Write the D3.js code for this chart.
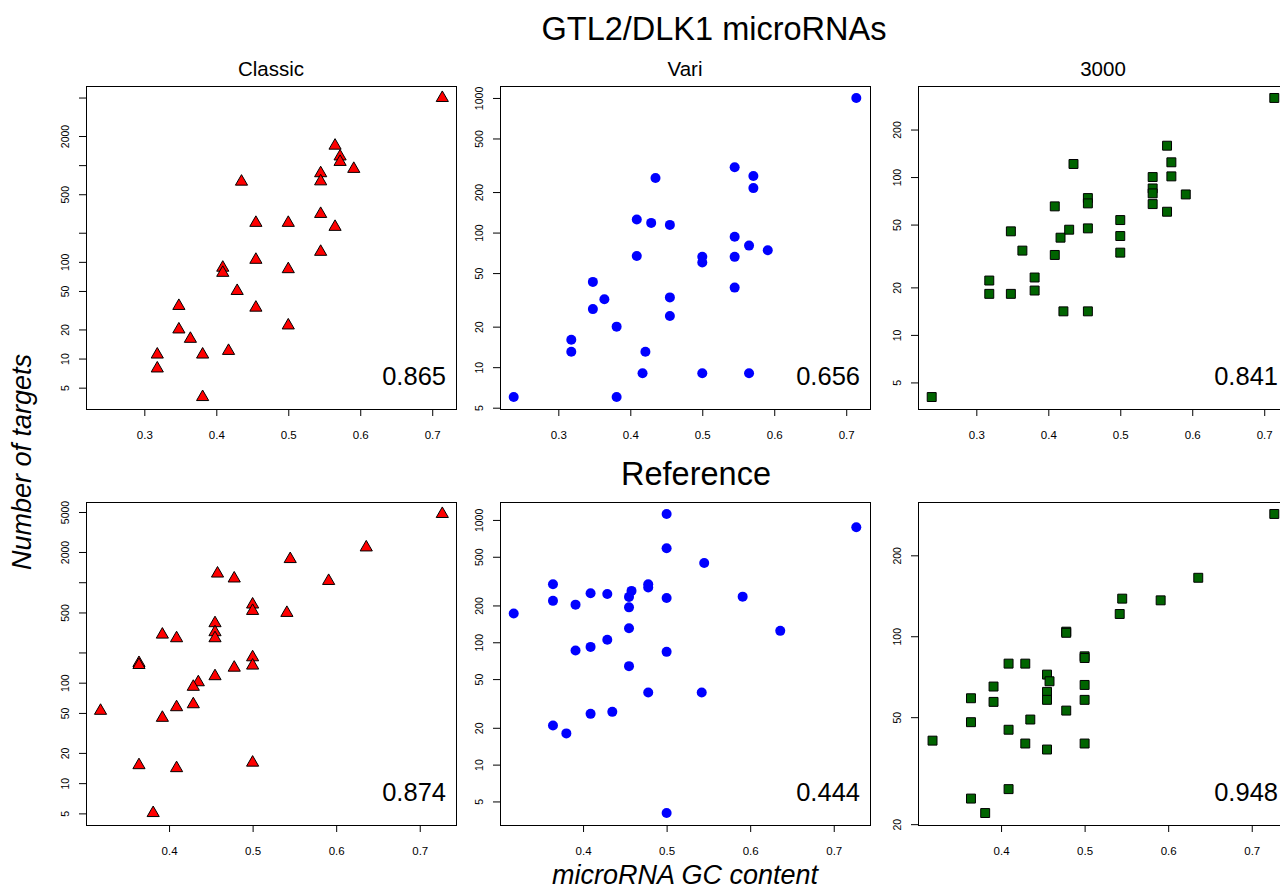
<!DOCTYPE html>
<html>
<head>
<meta charset="utf-8">
<script src="https://cdn.jsdelivr.net/npm/d3@7"></script>
<style>
  body { margin: 0; background: #fff; }
  svg { display: block; font-family: "Liberation Sans", Arial, sans-serif; }
</style>
</head>
<body>
<svg width="1280" height="890"></svg>
<script>
// GTL2/DLK1 row
const classicX = [0.714, 0.565, 0.572, 0.572, 0.591, 0.545, 0.545, 0.435, 0.545, 0.455, 0.5, 0.565, 0.545, 0.455,
                  0.409, 0.409, 0.5, 0.429, 0.348, 0.455, 0.5, 0.348, 0.364, 0.417, 0.318, 0.381, 0.318, 0.381];
const classicY = [4950, 1590, 1230, 1080, 915, 825, 680, 675, 313, 253, 253, 230, 127, 105,
                  87, 77, 84, 50, 35, 33.6, 22, 20, 16, 12, 11, 11, 7.9, 4];

const variX = [0.238, 0.318, 0.318, 0.348, 0.348, 0.364, 0.381, 0.381, 0.409, 0.409, 0.417, 0.421, 0.429, 0.435, 0.455,
               0.455, 0.455, 0.5, 0.5, 0.5, 0.545, 0.545, 0.545, 0.545, 0.565, 0.565, 0.571, 0.571, 0.591, 0.714];
const variY = [6, 16, 13, 43, 27, 32, 20, 6, 125, 67, 9, 13, 118, 254, 114,
               33, 24, 66, 60, 9, 306, 93, 66, 39, 80, 9, 263, 214, 74, 1000];

const k3000X = [0.238, 0.318, 0.318, 0.348, 0.348, 0.364, 0.381, 0.381, 0.409, 0.409, 0.417, 0.421, 0.429, 0.435, 0.455, 0.455,
                0.455, 0.455, 0.5, 0.5, 0.5, 0.545, 0.545, 0.545, 0.545, 0.565, 0.565, 0.571, 0.571, 0.591, 0.714];
const k3000Y = [4.04, 22.1, 18.2, 45.3, 18.2, 34.2, 23.1, 19.1, 65.2, 32.1, 41.3, 14.1, 46.4, 121, 73.6, 68.1,
                47.3, 14.1, 53.4, 42.3, 33.2, 100, 84.7, 78.8, 67.4, 158, 60.3, 124, 101, 77.6, 317];

// Reference row
const refClassicX = [0.727, 0.636, 0.545, 0.458, 0.478, 0.591, 0.5, 0.5, 0.541, 0.455, 0.455, 0.455, 0.392, 0.409, 0.364,
                     0.364, 0.5, 0.5, 0.478, 0.455, 0.435, 0.429, 0.429, 0.409, 0.318, 0.392, 0.5, 0.364, 0.409, 0.381];
const refClassicY = [4780, 2220, 1700, 1220, 1090, 1030, 600, 518, 495, 391, 318, 277, 301, 277, 157,
                     150, 179, 148, 141, 116, 101, 91, 61, 57, 52.5, 44.7, 16, 15.1, 14.1, 5.04];

const refVariX = [0.317, 0.364, 0.364, 0.364, 0.380, 0.391, 0.391, 0.409, 0.409, 0.409, 0.429, 0.429, 0.435, 0.455, 0.458, 0.455,
                  0.455, 0.455, 0.478, 0.478, 0.478, 0.5, 0.5, 0.5, 0.5, 0.5, 0.545, 0.542, 0.591, 0.636, 0.727];
const refVariY = [172, 298, 218, 20.9, 18, 203, 85.6, 252, 91.7, 26, 248, 105, 27, 235, 263, 193,
                  130, 63.8, 298, 280, 38.8, 1119, 587, 230, 83.5, 4.02, 445, 38.8, 236, 124, 871];

const ref3000X = [0.318, 0.364, 0.364, 0.364, 0.381, 0.391, 0.391, 0.409, 0.409, 0.409, 0.429, 0.429, 0.435, 0.455, 0.458, 0.455,
                  0.455, 0.455, 0.478, 0.478, 0.478, 0.5, 0.5, 0.5, 0.5, 0.5, 0.542, 0.545, 0.591, 0.636, 0.727];
const ref3000Y = [40.9, 58.8, 47.9, 24.9, 22, 65, 57, 79.1, 44.9, 27, 79.1, 39.9, 49, 72, 68, 62.1,
                  58, 37.9, 104, 103, 52.9, 84.2, 83, 65.9, 58, 39.9, 121, 138, 136, 165, 285];

const correlations = ["0.865", "0.656", "0.841", "0.874", "0.444", "0.948"];
const panelTitles = ["Classic", "Vari", "3000"];
const xTicksTop = [0.3, 0.4, 0.5, 0.6, 0.7];
const xTicksBottom = [0.4, 0.5, 0.6, 0.7];
const yTickValues = [5, 10, 20, 50, 100, 200, 500, 1000, 2000, 5000];
// labels R kept after dropping overlaps
const yLabelsShown = [
  [5, 10, 20, 50, 100, 500, 2000],
  [5, 10, 20, 50, 100, 200, 500, 1000],
  [5, 10, 20, 50, 100, 200],
  [5, 10, 20, 50, 100, 500, 2000, 5000],
  [5, 10, 20, 50, 100, 200, 500, 1000],
  [20, 50, 100, 200]
];

let svg = d3.select("svg");

let lefts = [86, 500, 918], tops = [86, 502];
let pw = 370, ph = 323;

let panels = [
  {xs: classicX, ys: classicY, shape: "tri"},
  {xs: variX, ys: variY, shape: "dot"},
  {xs: k3000X, ys: k3000Y, shape: "sq"},
  {xs: refClassicX, ys: refClassicY, shape: "tri"},
  {xs: refVariX, ys: refVariY, shape: "dot"},
  {xs: ref3000X, ys: ref3000Y, shape: "sq"}
];

// R style limits: data range widened by 4% (log space for y)
function padExtent(ext) {
  let d = (ext[1] - ext[0]) * 0.04;
  return [ext[0] - d, ext[1] + d];
}

// the x range is shared along a row
let rowX = [
  padExtent(d3.extent(classicX.concat(variX, k3000X))),
  padExtent(d3.extent(refClassicX.concat(refVariX, ref3000X)))
];

panels.forEach(function(p, i) {
  let row = Math.floor(i / 3), col = i % 3;
  let g = svg.append("g")
      .attr("transform", "translate(" + lefts[col] + "," + tops[row] + ")");

  let x = d3.scaleLinear().domain(rowX[row]).range([0, pw]);
  let ly = padExtent(d3.extent(p.ys, v => Math.log10(v)));
  let y = d3.scaleLog().domain([Math.pow(10, ly[0]), Math.pow(10, ly[1])]).range([ph, 0]);

  let yt = yTickValues.filter(v => v >= y.domain()[0] && v <= y.domain()[1]);
  let shown = yLabelsShown[i];

  let ya = g.append("g")
      .call(d3.axisLeft(y).tickValues(yt).tickSize(7)
        .tickFormat(d => shown.includes(d) ? d : ""));
  ya.select(".domain").remove();
  ya.selectAll("text")
      .attr("transform", "rotate(-90)")
      .attr("x", 0).attr("y", -17).attr("dy", 0)
      .attr("text-anchor", "middle")
      .style("font-size", "10.5px")
      .style("font-family", "Liberation Sans, Arial, sans-serif")
      .attr("fill", "#000");

  let xa = g.append("g")
      .attr("transform", "translate(0," + ph + ")")
      .call(d3.axisBottom(x).tickValues(row == 0 ? xTicksTop : xTicksBottom).tickSize(7)
        .tickFormat(d3.format(".1f")));
  xa.select(".domain").remove();
  xa.selectAll("text")
      .attr("y", 30).attr("dy", 0)
      .style("font-size", "11.5px")
      .style("font-family", "Liberation Sans, Arial, sans-serif")
      .attr("fill", "#000");

  g.append("rect")
      .attr("x", 0.5).attr("y", 0.5)
      .attr("width", pw).attr("height", ph)
      .attr("fill", "none")
      .attr("stroke", "#000");

  let pts = p.xs.map((v, k) => [v, p.ys[k]]);
  if (p.shape == "dot") {
    g.selectAll("circle.pt").data(pts).enter().append("circle")
        .attr("cx", d => x(d[0]))
        .attr("cy", d => y(d[1]))
        .attr("r", 5)
        .attr("fill", "#0000ff");
  } else {
    let sym = p.shape == "tri"
      ? d3.symbol().type(d3.symbolTriangle).size(64)
      : d3.symbol().type(d3.symbolSquare).size(80);
    g.selectAll("path.pt").data(pts).enter().append("path")
        .attr("transform", d => "translate(" + x(d[0]) + "," + y(d[1]) + ")")
        .attr("d", sym)
        .attr("fill", p.shape == "tri" ? "#ff0000" : "#006400")
        .attr("stroke", "#000")
        .attr("stroke-width", 1);
  }

  g.append("text")
      .attr("x", pw - 10)
      .attr("y", ph - 24)
      .attr("text-anchor", "end")
      .style("font-size", "25.5px")
      .text(correlations[i]);

  if (row == 0) {
    g.append("text")
        .attr("x", pw / 2)
        .attr("y", -10)
        .attr("text-anchor", "middle")
        .style("font-size", "20.5px")
        .text(panelTitles[col]);
  }
});

svg.append("text")
    .attr("x", 714).attr("y", 40)
    .attr("text-anchor", "middle")
    .style("font-size", "32.5px")
    .text("GTL2/DLK1 microRNAs");

svg.append("text")
    .attr("x", 696).attr("y", 485)
    .attr("text-anchor", "middle")
    .style("font-size", "32.5px")
    .text("Reference");

svg.append("text")
    .attr("transform", "translate(31,462) rotate(-90)")
    .attr("text-anchor", "middle")
    .style("font-size", "27px")
    .style("font-style", "italic")
    .text("Number of targets");

svg.append("text")
    .attr("x", 685).attr("y", 884)
    .attr("text-anchor", "middle")
    .style("font-size", "27px")
    .style("font-style", "italic")
    .text("microRNA GC content");
</script>
</body>
</html>
